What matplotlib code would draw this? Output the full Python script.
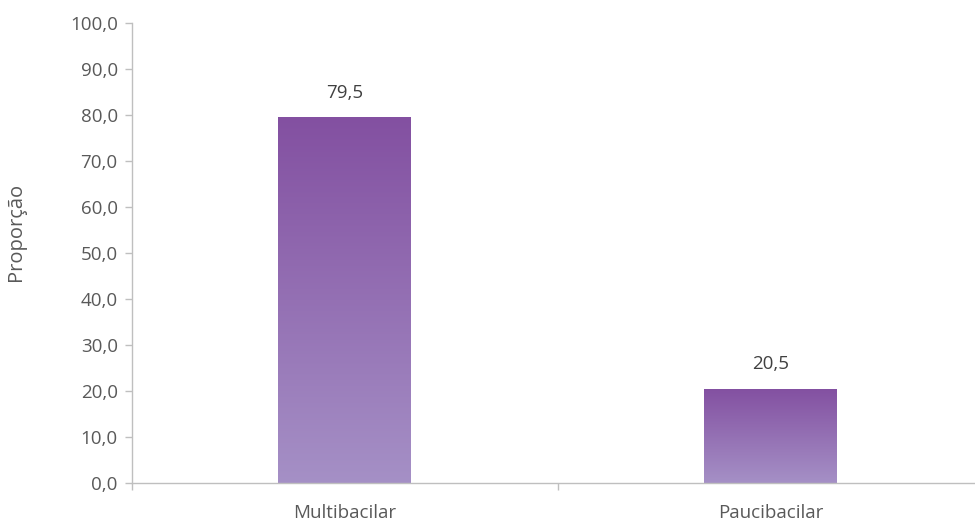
import numpy as np
import matplotlib.pyplot as plt
import matplotlib as mpl
from matplotlib.colors import LinearSegmentedColormap

mpl.rcParams['font.family'] = ['Open Sans', 'DejaVu Sans']

categories = ['Multibacilar', 'Paucibacilar']
values = [79.5, 20.5]
yticks = np.arange(0, 101, 10)

GRAY = '#595959'
AXIS = '#bfbfbf'
FS = 13.5

fig = plt.figure(figsize=(9.75, 5.25), dpi=100)
# axes runs a bit past the right edge, like the original export
ax = fig.add_axes([0.1350, 0.08, 0.874, 0.876])

x = np.arange(len(categories))
bars = ax.bar(x, values, width=0.312, color='none', edgecolor='none', zorder=2)

# vertical gradient inside every bar, dark on top
cmap = LinearSegmentedColormap.from_list('purp', ['#a590c6', '#8350a1'])
grad = np.linspace(0, 1, 256).reshape(-1, 1)
for b in bars:
    x0, y0 = b.get_x(), b.get_y()
    w, h = b.get_width(), b.get_height()
    im = ax.imshow(grad, cmap=cmap, origin='lower', aspect='auto',
                   extent=[x0, x0 + w, y0, y0 + h], zorder=2)
    im.set_clip_path(b)

for xi, v in zip(x, values):
    ax.annotate(f"{v:.1f}".replace('.', ','), (xi, v), xytext=(0, 11),
                textcoords='offset points', ha='center', va='bottom',
                fontsize=FS, color='#404040')

ax.set_xlim(-0.5, 1.5)
ax.set_ylim(0, 100)
ax.set_yticks(yticks)
ax.set_yticklabels([f"{t:.1f}".replace('.', ',') for t in yticks])
ax.set_xticks(x)
ax.set_xticklabels(categories)
ax.set_xticks([-0.5, 0.5, 1.5], minor=True)

ax.tick_params(axis='y', colors=AXIS, labelcolor=GRAY, labelsize=FS,
               length=5, width=1, direction='out', pad=5)
ax.tick_params(axis='x', which='major', length=0, labelcolor=GRAY,
               labelsize=FS, pad=15)
ax.tick_params(axis='x', which='minor', colors=AXIS, length=5, width=1)

for s in ['top', 'right']:
    ax.spines[s].set_visible(False)
for s in ['left', 'bottom']:
    ax.spines[s].set_color(AXIS)
    ax.spines[s].set_linewidth(1)

ax.set_ylabel('Proporção', color=GRAY, fontsize=14.5)
ax.yaxis.set_label_coords(-0.124, 0.545)

fig.savefig('out.png', dpi=100)
